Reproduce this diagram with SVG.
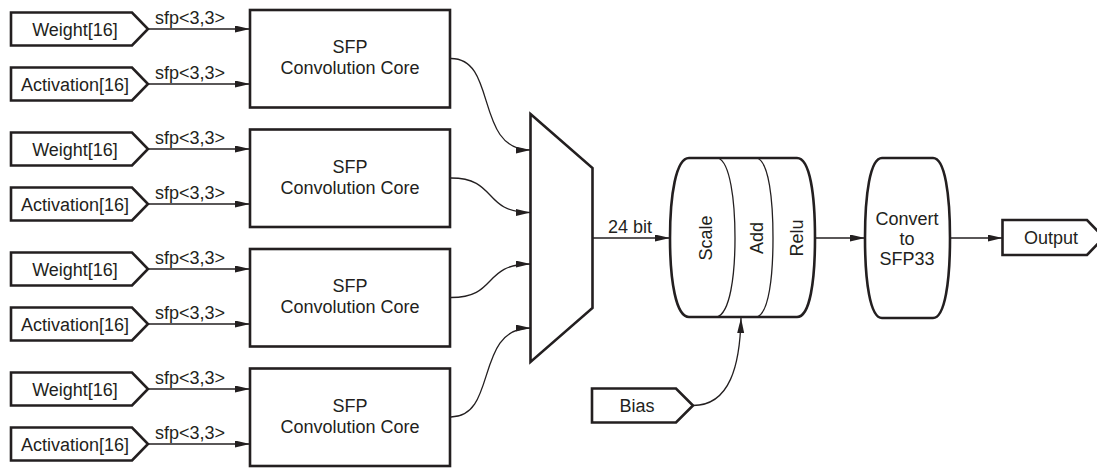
<svg xmlns="http://www.w3.org/2000/svg" width="1097" height="468" viewBox="0 0 1097 468">
  <defs>
    <marker id="arrow" markerUnits="userSpaceOnUse" markerWidth="15" markerHeight="8" refX="15" refY="3.5" orient="auto">
      <path d="M0,0 L15,3.5 L0,7 Z" fill="#231f20"/>
    </marker>
    <style>
      .shape { fill: #ffffff; stroke: #231f20; stroke-width: 2.6; stroke-linejoin: miter; }
      .thin { fill: none; stroke: #231f20; stroke-width: 1.3; }
      .wire { fill: none; stroke: #231f20; stroke-width: 1.3; marker-end: url(#arrow); }
      text { font-family: "Liberation Sans", Arial, sans-serif; font-size: 18px; fill: #231f20; }
      .mid { text-anchor: middle; }
    </style>
  </defs>

  <rect width="1097" height="468" fill="#ffffff"/>

  <!-- input ports -->
  <g id="weight1"><path class="shape" d="M11,12.5 H132 L148,29 L132,45.5 H11 Z"/><text class="mid" x="75" y="35.5">Weight[16]</text></g>
  <g id="activation1"><path class="shape" d="M11,67.5 H132 L148,84 L132,100.5 H11 Z"/><text class="mid" x="75" y="90.5">Activation[16]</text></g>
  <g id="weight2"><path class="shape" d="M11,132.5 H132 L148,149 L132,165.5 H11 Z"/><text class="mid" x="75" y="155.5">Weight[16]</text></g>
  <g id="activation2"><path class="shape" d="M11,187.5 H132 L148,204 L132,220.5 H11 Z"/><text class="mid" x="75" y="210.5">Activation[16]</text></g>
  <g id="weight3"><path class="shape" d="M11,252.5 H132 L148,269 L132,285.5 H11 Z"/><text class="mid" x="75" y="275.5">Weight[16]</text></g>
  <g id="activation3"><path class="shape" d="M11,307.5 H132 L148,324 L132,340.5 H11 Z"/><text class="mid" x="75" y="330.5">Activation[16]</text></g>
  <g id="weight4"><path class="shape" d="M11,372.5 H132 L148,389 L132,405.5 H11 Z"/><text class="mid" x="75" y="395.5">Weight[16]</text></g>
  <g id="activation4"><path class="shape" d="M11,427.5 H132 L148,444 L132,460.5 H11 Z"/><text class="mid" x="75" y="450.5">Activation[16]</text></g>

  <!-- convolution cores -->
  <g id="core1"><rect class="shape" x="250" y="10" width="200" height="97.5"/><text class="mid" x="350" y="53">SFP</text><text class="mid" x="350" y="74">Convolution Core</text></g>
  <g id="core2"><rect class="shape" x="250" y="129.5" width="200" height="97.5"/><text class="mid" x="350" y="172.5">SFP</text><text class="mid" x="350" y="193.5">Convolution Core</text></g>
  <g id="core3"><rect class="shape" x="250" y="249" width="200" height="97.5"/><text class="mid" x="350" y="292">SFP</text><text class="mid" x="350" y="313">Convolution Core</text></g>
  <g id="core4"><rect class="shape" x="250" y="368.5" width="200" height="97.5"/><text class="mid" x="350" y="411.5">SFP</text><text class="mid" x="350" y="432.5">Convolution Core</text></g>

  <!-- multiplexer -->
  <g id="mux"><path class="shape" d="M530.5,114 L592.5,168 V308 L530.5,362 Z"/></g>

  <!-- scale / add / relu drum -->
  <g id="postproc">
    <path class="shape" d="M689,158 H797 C810,158 815,195 815,238 C815,281 810,317 797,317 H689 C676,317 670,281 670,238 C670,195 676,158 689,158 Z"/>
    <path class="thin" d="M718,158 C730,162 735,200 735,238 C735,276 730,313 717,317"/>
    <path class="thin" d="M757,158 C769,162 773,200 773,238 C773,276 769,313 757,317"/>
    <text class="mid" transform="translate(705.5,238) rotate(-90)" y="6.5">Scale</text>
    <text class="mid" transform="translate(756,238) rotate(-90)" y="6.5">Add</text>
    <text class="mid" transform="translate(796,238) rotate(-90)" y="6.5">Relu</text>
  </g>

  <!-- conversion stage -->
  <g id="convert">
    <path class="shape" d="M882,158 H933 C945,158 950,195 950,238 C950,281 945,318 933,318 H882 C870,318 865,281 865,238 C865,195 870,158 882,158 Z"/>
    <text class="mid" x="907" y="225">Convert</text>
    <text class="mid" x="907" y="245">to</text>
    <text class="mid" x="907" y="265">SFP33</text>
  </g>

  <!-- output port -->
  <g id="output"><path class="shape" d="M1002.5,220 H1087 L1104,237.5 L1087,255 H1002.5 Z"/><text class="mid" x="1051" y="244">Output</text></g>

  <!-- bias port -->
  <g id="bias"><path class="shape" d="M592,388.5 H676 L693,405.5 L676,422.5 H592 Z"/><text class="mid" x="637" y="412">Bias</text></g>

  <!-- connectors -->
  <g id="connectors">
    <path class="wire" d="M148,29 H250"/>
    <path class="wire" d="M148,84 H250"/>
    <path class="wire" d="M148,149 H250"/>
    <path class="wire" d="M148,204 H250"/>
    <path class="wire" d="M148,269 H250"/>
    <path class="wire" d="M148,324 H250"/>
    <path class="wire" d="M148,389 H250"/>
    <path class="wire" d="M148,444 H250"/>
    <path class="wire" d="M451,58.5 C498,58.5 474,150 530.5,150"/>
    <path class="wire" d="M451,178 C498,178 482,212.5 530.5,212.5"/>
    <path class="wire" d="M451,297.5 C498,297.5 482,264 530.5,264"/>
    <path class="wire" d="M451,417 C498,417 474,328 530.5,328"/>
    <path class="wire" d="M592.5,238 H670"/>
    <path class="wire" d="M815,238 H865"/>
    <path class="wire" d="M950,238 H1002.5"/>
    <path class="wire" d="M693,405.5 C730,405.5 740,365 741,318"/>
  </g>

  <!-- connector labels -->
  <g id="labels">
    <text x="155" y="23.5">sfp&lt;3,3&gt;</text>
    <text x="155" y="78.5">sfp&lt;3,3&gt;</text>
    <text x="155" y="143.5">sfp&lt;3,3&gt;</text>
    <text x="155" y="198.5">sfp&lt;3,3&gt;</text>
    <text x="155" y="263.5">sfp&lt;3,3&gt;</text>
    <text x="155" y="318.5">sfp&lt;3,3&gt;</text>
    <text x="155" y="383.5">sfp&lt;3,3&gt;</text>
    <text x="155" y="438.5">sfp&lt;3,3&gt;</text>
    <text x="608" y="233">24 bit</text>
  </g>
</svg>
